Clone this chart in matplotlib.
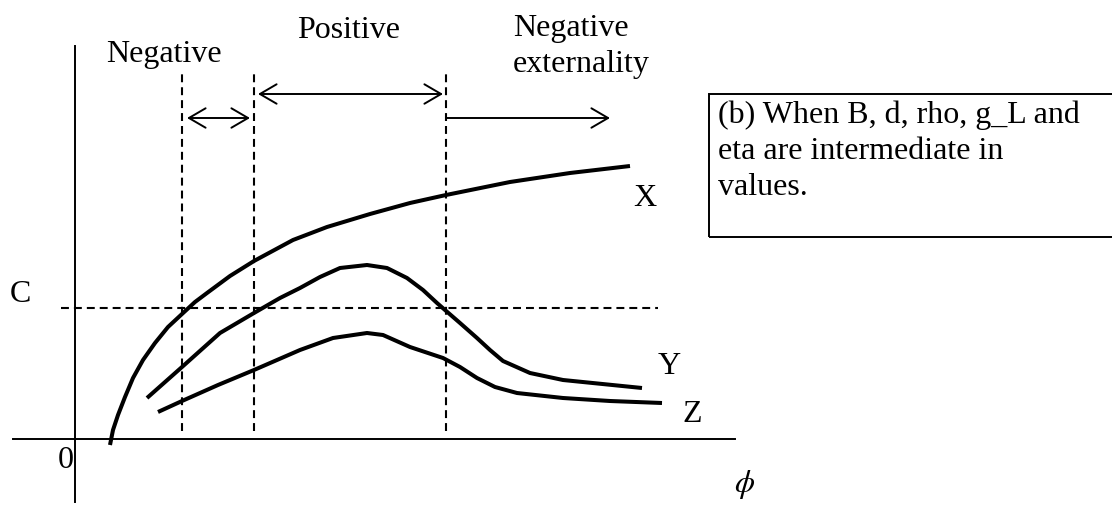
import matplotlib
matplotlib.use("Agg")
import matplotlib.pyplot as plt
from matplotlib.patches import FancyArrowPatch, Rectangle

plt.rcParams['font.family'] = ['Liberation Serif', 'DejaVu Serif']
plt.rcParams['mathtext.fontset'] = 'stix'

# Data (phi, value)
x_phi = [0.35, 0.38, 0.43, 0.50, 0.58, 0.68, 0.80, 0.93, 1.07, 1.20, 1.32, 1.55, 1.79,
         2.18, 2.52, 2.95, 3.35, 3.71, 4.35, 4.95, 5.55]
x_val = [-0.06, 0.09, 0.24, 0.42, 0.61, 0.79, 0.96, 1.12, 1.25, 1.37, 1.46, 1.63, 1.78,
         1.99, 2.12, 2.25, 2.36, 2.44, 2.57, 2.66, 2.73]

y_phi = [0.72, 1.07, 1.45, 1.79, 2.05, 2.25, 2.45, 2.65, 2.92, 3.12, 3.32, 3.48, 3.62,
         3.70, 3.85, 4.02, 4.15, 4.28, 4.55, 4.88, 5.67]
y_val = [0.41, 0.72, 1.06, 1.26, 1.41, 1.51, 1.62, 1.71, 1.74, 1.71, 1.61, 1.49, 1.36,
         1.29, 1.16, 1.01, 0.89, 0.78, 0.66, 0.59, 0.51]

z_phi = [0.83, 1.07, 1.43, 1.79, 2.25, 2.58, 2.92, 3.08, 3.35, 3.68, 3.85, 4.02, 4.20,
         4.42, 4.88, 5.35, 5.87]
z_val = [0.27, 0.38, 0.54, 0.69, 0.89, 1.01, 1.06, 1.04, 0.92, 0.81, 0.72, 0.61, 0.52,
         0.46, 0.41, 0.38, 0.36]

dividers = [1.07, 1.79, 3.71]   # region boundaries on phi
c_level = 1.31                  # cost line C

curve_labels = ['X', 'Y', 'Z']


def P(px, py):
    # pixel position on the canvas -> data coords (layout only)
    return (px - 75) / 100, (439 - py) / 100


fig = plt.figure(figsize=(11.12, 5.05), dpi=100)
ax = fig.add_axes([0, 0, 1, 1])
ax.set_xlim(-0.75, 10.37)
ax.set_ylim(-0.66, 4.39)
ax.axis('off')

FS = 23

# axes
ax.plot([P(75, 46)[0], P(75, 502)[0]], [P(75, 46)[1], P(75, 502)[1]], color='black', lw=1.4)
ax.plot([P(13, 439)[0], P(735, 439)[0]], [0, 0], color='black', lw=1.4)

# dashed guides
dash = (0, (3.8, 2.4))
for d in dividers:
    ax.plot([d, d], [P(0, 431)[1], P(0, 73)[1]], color='black', lw=1.5, linestyle=dash)
ax.plot([P(61, 0)[0], P(658, 0)[0]], [c_level, c_level], color='black', lw=1.5, linestyle=dash)

# curves
for xs, ys in [(x_phi, x_val), (y_phi, y_val), (z_phi, z_val)]:
    ax.plot(xs, ys, color='black', lw=2.9, solid_joinstyle='round', solid_capstyle='butt')

# arrows
arrows = [
    ('<->', P(187, 118), P(250, 118)),
    ('<->', P(258, 94), P(443, 94)),
    ('->', P(447, 118), P(610, 118)),
]
for style, a, b in arrows:
    ax.add_patch(FancyArrowPatch(a, b, arrowstyle=style + ',head_length=0.6,head_width=0.35',
                                 mutation_scale=20, lw=1.4, color='black',
                                 shrinkA=0, shrinkB=0))

# region labels
ax.text(*P(106, 62), 'Negative', fontsize=FS, va='baseline')
ax.text(*P(297, 38), 'Positive', fontsize=FS, va='baseline')
ax.text(*P(513, 36), 'Negative', fontsize=FS, va='baseline')
ax.text(*P(513, 72), 'externality', fontsize=FS, va='baseline')

# axis labels
ax.text(*P(10, 302), 'C', fontsize=FS, va='baseline')
ax.text(*P(58, 468), '0', fontsize=FS, va='baseline')
ax.text(*P(734, 492), r'$\phi$', fontsize=FS, va='baseline')

# curve labels
for lab, pos in zip(curve_labels, [(633, 206), (658, 374), (682, 422)]):
    ax.text(*P(*pos), lab, fontsize=FS, va='baseline')

# note box
bx0, by0 = P(709, 237)
bx1, by1 = P(1125, 94)
ax.add_patch(Rectangle((bx0, by0), bx1 - bx0, by1 - by0, fill=False,
                       edgecolor='black', lw=1.4, clip_on=False))
note = ['(b) When B, d, rho, g_L and', 'eta are intermediate in', 'values.']
for line, base in zip(note, [123, 159, 195]):
    ax.text(*P(718, base), line, fontsize=FS, va='baseline')

fig.savefig('out.png', dpi=100)
